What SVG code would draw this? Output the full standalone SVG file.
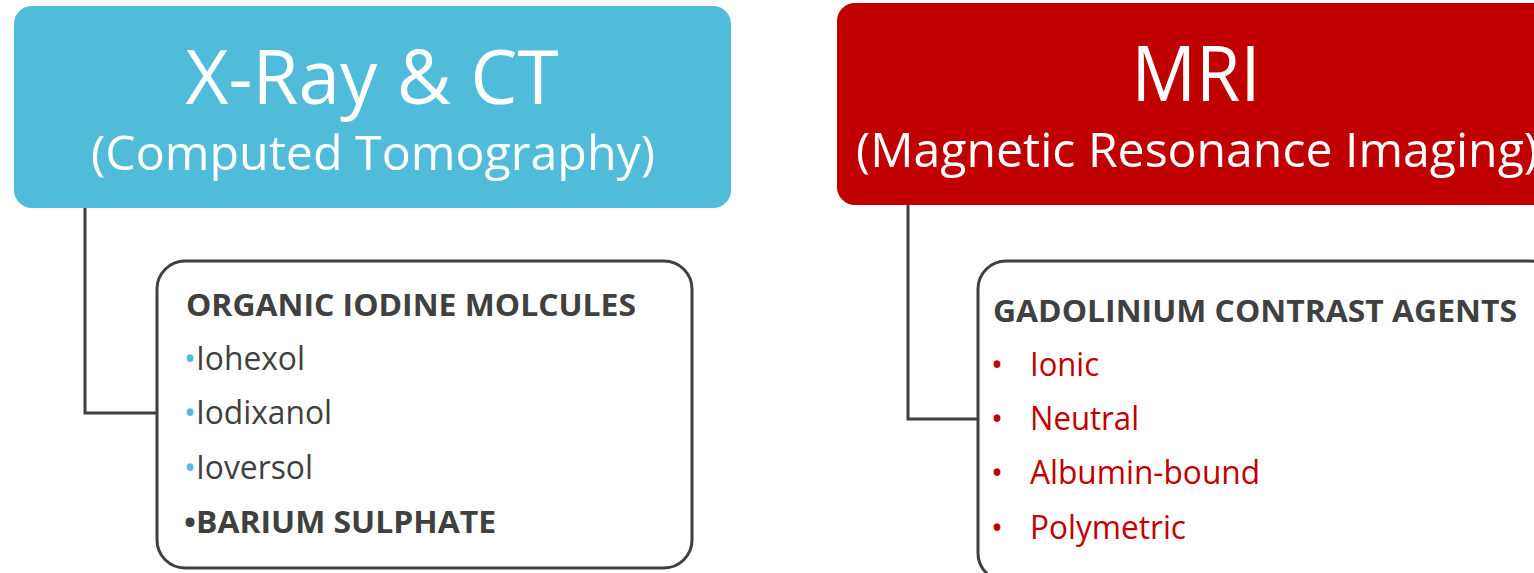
<svg xmlns="http://www.w3.org/2000/svg" width="1534" height="573" viewBox="0 0 1534 573">
<style>
text{font-family:"Open Sans","Noto Sans","Liberation Sans",sans-serif}
.hd{fill:#fff}
.box{fill:#fff;stroke:#404040;stroke-width:3}
.con{fill:none;stroke:#404040;stroke-width:3}
.dk{fill:#404040}
.b{font-weight:bold}
.blue{fill:#50BCD9}
.red{fill:#C00000}
</style>
<rect width="1534" height="573" fill="#fff"/>
<g id="connectors">
<polyline class="con" points="85,208 85,413 157,413"/>
<polyline class="con" points="908,205 908,419 978,419"/>
</g>
<g id="xray">
<rect x="14" y="6" width="717" height="202" rx="18" fill="#50BCD9"/>
<text class="hd" x="372" y="104" font-size="75" text-anchor="middle" textLength="373" lengthAdjust="spacingAndGlyphs">X-Ray &amp; CT</text>
<text class="hd" x="373" y="170" font-size="48" text-anchor="middle" textLength="564" lengthAdjust="spacingAndGlyphs">(Computed Tomography)</text>
</g>
<g id="mri">
<rect x="837" y="3" width="720" height="202" rx="18" fill="#C00000"/>
<text class="hd" x="1196" y="101" font-size="77" text-anchor="middle" textLength="129" lengthAdjust="spacingAndGlyphs">MRI</text>
<text class="hd" x="856" y="167" font-size="48" textLength="682" lengthAdjust="spacingAndGlyphs">(Magnetic Resonance Imaging)</text>
</g>
<g id="iodine">
<rect class="box" x="157" y="261" width="535" height="307" rx="28"/>
<text class="dk b" x="186" y="316" font-size="31" textLength="450" lengthAdjust="spacingAndGlyphs">ORGANIC IODINE MOLCULES</text>
<text x="184" y="370" font-size="32" textLength="121" lengthAdjust="spacingAndGlyphs"><tspan class="blue">•</tspan><tspan class="dk">Iohexol</tspan></text>
<text x="184" y="424" font-size="32" textLength="148" lengthAdjust="spacingAndGlyphs"><tspan class="blue">•</tspan><tspan class="dk">Iodixanol</tspan></text>
<text x="184" y="479" font-size="32" textLength="129" lengthAdjust="spacingAndGlyphs"><tspan class="blue">•</tspan><tspan class="dk">Ioversol</tspan></text>
<text class="dk b" x="184" y="533" font-size="31" textLength="312" lengthAdjust="spacingAndGlyphs">•BARIUM SULPHATE</text>
</g>
<g id="gadolinium">
<rect class="box" x="978" y="261" width="580" height="320" rx="28"/>
<text class="dk b" x="993" y="322" font-size="31" textLength="524" lengthAdjust="spacingAndGlyphs">GADOLINIUM CONTRAST AGENTS</text>
<g class="red" font-size="32">
<text x="991" y="376">•</text><text x="1030" y="376" textLength="69" lengthAdjust="spacingAndGlyphs">Ionic</text>
<text x="991" y="430">•</text><text x="1030" y="430" textLength="109" lengthAdjust="spacingAndGlyphs">Neutral</text>
<text x="991" y="484">•</text><text x="1030" y="484" textLength="230" lengthAdjust="spacingAndGlyphs">Albumin-bound</text>
<text x="991" y="539">•</text><text x="1030" y="539" textLength="156" lengthAdjust="spacingAndGlyphs">Polymetric</text>
</g>
</g>
</svg>
